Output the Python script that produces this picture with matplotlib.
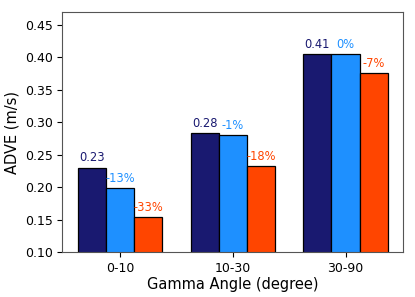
import numpy as np
import matplotlib

matplotlib.use("Agg")
import matplotlib.pyplot as plt

CATEGORIES = ["0-10", "10-30", "30-90"]
BASELINE = [0.2304, 0.2840, 0.4055]
METHOD_B = [0.1995, 0.2800, 0.4055]
METHOD_C = [0.1540, 0.2325, 0.3760]
COLORS = ["#191970", "#1e90ff", "#ff4500"]


def main() -> None:
    fig, ax = plt.subplots(figsize=(4.15, 2.97), dpi=100)
    x = np.arange(len(CATEGORIES))
    width = 0.25

    series = [BASELINE, METHOD_B, METHOD_C]
    for idx, (values, color) in enumerate(zip(series, COLORS)):
        pos = x + (idx - 1) * width
        ax.bar(pos, values, width, color=color, edgecolor="black", linewidth=0.9)
        for p, v, base in zip(pos, values, BASELINE):
            if idx == 0:
                label = f"{v:.2f}"
            else:
                label = f"{round((v - base) / base * 100):.0f}%"
            ax.text(p, v + 0.005, label, ha="center", va="bottom",
                    color=color, fontsize=8.3)

    ax.set_ylim(0.10, 0.47)
    ax.set_yticks(np.arange(0.10, 0.451, 0.05))
    ax.set_xticks(x)
    ax.set_xticklabels(CATEGORIES)
    ax.tick_params(labelsize=9)
    ax.set_xlabel("Gamma Angle (degree)", fontsize=10.5, labelpad=1)
    ax.set_ylabel("ADVE (m/s)", fontsize=10.5)
    for spine in ax.spines.values():
        spine.set_color("#555555")

    fig.subplots_adjust(left=0.15, right=0.972, top=0.96, bottom=0.15)
    fig.savefig("out.png", dpi=100)
    plt.close(fig)


if __name__ == "__main__":
    main()
